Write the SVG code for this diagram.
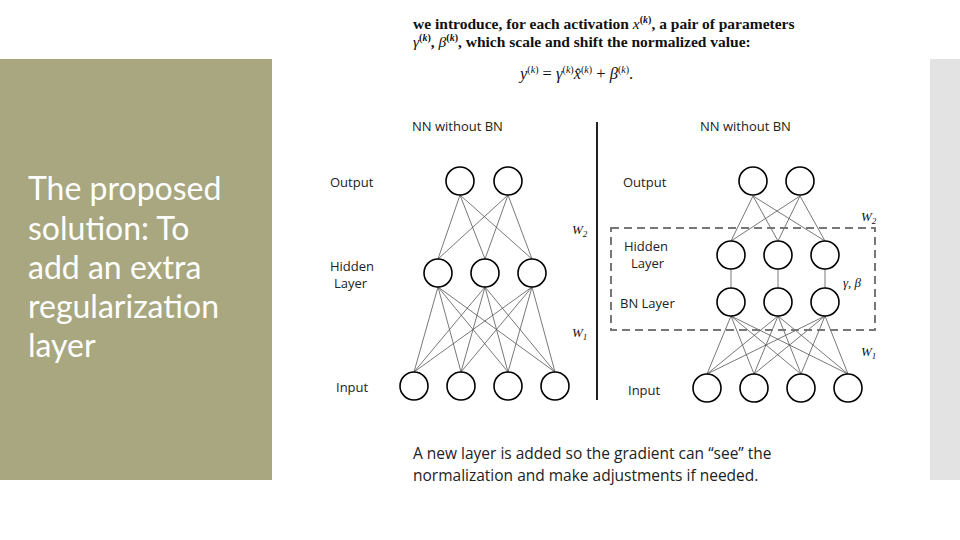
<svg xmlns="http://www.w3.org/2000/svg" width="960" height="540" viewBox="0 0 960 540">
<style>
.n{fill:#fff;stroke:#000;stroke-width:1.6}
.e{stroke:#555;stroke-width:0.8}
.l{font-family:"Open Sans","Noto Sans",sans-serif;font-size:13px;fill:#222}
.m{font-family:"Liberation Serif",serif;font-size:15.5px;fill:#111;font-weight:bold}
.mi{font-family:"Liberation Serif",serif;font-style:italic;font-size:13px;fill:#111}
</style>
<rect width="960" height="540" fill="#fff"/>
<rect x="0" y="59" width="272" height="421" fill="#a8a77f"/>
<rect x="930" y="59" width="30" height="421" fill="#e3e3e3"/>
<g id="title"><text font-family="Lato,'Open Sans',sans-serif" font-size="32" fill="#fff"><tspan x="28" y="200">The proposed</tspan><tspan x="28" y="240">solution: To</tspan><tspan x="28" y="279">add an extra</tspan><tspan x="28" y="318">regularization</tspan><tspan x="28" y="357">layer</tspan></text></g>
<g id="paper" class="m">
<text x="413" y="29">we introduce, for each activation <tspan font-style="italic" font-weight="normal">x</tspan><tspan font-size="10" dy="-6">(<tspan font-style="italic">k</tspan>)</tspan><tspan dy="6">, a pair of parameters</tspan></text>
<text x="413" y="47"><tspan font-style="italic" font-weight="normal">γ</tspan><tspan font-size="10" dy="-6">(<tspan font-style="italic">k</tspan>)</tspan><tspan dy="6">, </tspan><tspan font-style="italic" font-weight="normal">β</tspan><tspan font-size="10" dy="-6">(<tspan font-style="italic">k</tspan>)</tspan><tspan dy="6">, which scale and shift the normalized value:</tspan></text>
<text x="520" y="79" font-weight="normal" font-size="16.5"><tspan font-style="italic">y</tspan><tspan font-size="10" dy="-6">(<tspan font-style="italic">k</tspan>)</tspan><tspan dy="6"> = </tspan><tspan font-style="italic">γ</tspan><tspan font-size="10" dy="-6">(<tspan font-style="italic">k</tspan>)</tspan><tspan dy="6" font-style="italic">x̂</tspan><tspan font-size="10" dy="-6">(<tspan font-style="italic">k</tspan>)</tspan><tspan dy="6"> + </tspan><tspan font-style="italic">β</tspan><tspan font-size="10" dy="-6">(<tspan font-style="italic">k</tspan>)</tspan><tspan dy="6">.</tspan></text>
</g>
<g id="connectors">
<line x1="597" y1="122" x2="597" y2="400" stroke="#222" stroke-width="2"/>
<g class="e">
<line x1="460" y1="195" x2="438" y2="259"/><line x1="460" y1="195" x2="485" y2="259"/><line x1="460" y1="195" x2="532" y2="259"/>
<line x1="508" y1="195" x2="438" y2="259"/><line x1="508" y1="195" x2="485" y2="259"/><line x1="508" y1="195" x2="532" y2="259"/>
<line x1="438" y1="287" x2="414" y2="372"/><line x1="438" y1="287" x2="461" y2="372"/><line x1="438" y1="287" x2="508" y2="372"/><line x1="438" y1="287" x2="555" y2="372"/>
<line x1="485" y1="287" x2="414" y2="372"/><line x1="485" y1="287" x2="461" y2="372"/><line x1="485" y1="287" x2="508" y2="372"/><line x1="485" y1="287" x2="555" y2="372"/>
<line x1="532" y1="287" x2="414" y2="372"/><line x1="532" y1="287" x2="461" y2="372"/><line x1="532" y1="287" x2="508" y2="372"/><line x1="532" y1="287" x2="555" y2="372"/>
<line x1="753" y1="196" x2="731" y2="241"/><line x1="753" y1="196" x2="778" y2="241"/><line x1="753" y1="196" x2="825" y2="241"/>
<line x1="800" y1="196" x2="731" y2="241"/><line x1="800" y1="196" x2="778" y2="241"/><line x1="800" y1="196" x2="825" y2="241"/>
<line x1="731" y1="269" x2="731" y2="288"/><line x1="778" y1="269" x2="778" y2="288"/><line x1="825" y1="269" x2="825" y2="288"/>
<line x1="731" y1="316" x2="707" y2="374"/><line x1="731" y1="316" x2="754" y2="374"/><line x1="731" y1="316" x2="801" y2="374"/><line x1="731" y1="316" x2="848" y2="374"/>
<line x1="778" y1="316" x2="707" y2="374"/><line x1="778" y1="316" x2="754" y2="374"/><line x1="778" y1="316" x2="801" y2="374"/><line x1="778" y1="316" x2="848" y2="374"/>
<line x1="825" y1="316" x2="707" y2="374"/><line x1="825" y1="316" x2="754" y2="374"/><line x1="825" y1="316" x2="801" y2="374"/><line x1="825" y1="316" x2="848" y2="374"/>
</g>
<rect x="611" y="228" width="264" height="102" fill="none" stroke="#777" stroke-width="2" stroke-dasharray="8,5"/>
</g>
<g id="left-net">
<circle class="n" cx="460" cy="181" r="14"/><circle class="n" cx="508" cy="181" r="14"/>
<circle class="n" cx="438" cy="273" r="14"/><circle class="n" cx="485" cy="273" r="14"/><circle class="n" cx="532" cy="273" r="14"/>
<circle class="n" cx="414" cy="386" r="14"/><circle class="n" cx="461" cy="386" r="14"/><circle class="n" cx="508" cy="386" r="14"/><circle class="n" cx="555" cy="386" r="14"/>
<text class="l" x="412" y="131">NN without BN</text>
<text class="l" x="330" y="187">Output</text>
<text class="l" x="330" y="271">Hidden</text><text class="l" x="334" y="288">Layer</text>
<text class="l" x="336" y="392">Input</text>
<text class="mi" x="572" y="234">W<tspan font-size="9" dy="3">2</tspan></text>
<text class="mi" x="572" y="337">W<tspan font-size="9" dy="3">1</tspan></text>
</g>
<g id="right-net">
<circle class="n" cx="753" cy="181" r="14"/><circle class="n" cx="800" cy="181" r="14"/>
<circle class="n" cx="731" cy="255" r="14"/><circle class="n" cx="778" cy="255" r="14"/><circle class="n" cx="825" cy="255" r="14"/>
<circle class="n" cx="731" cy="302" r="14"/><circle class="n" cx="778" cy="302" r="14"/><circle class="n" cx="825" cy="302" r="14"/>
<circle class="n" cx="707" cy="388" r="14"/><circle class="n" cx="754" cy="388" r="14"/><circle class="n" cx="801" cy="388" r="14"/><circle class="n" cx="848" cy="388" r="14"/>
<text class="l" x="700" y="131">NN without BN</text>
<text class="l" x="623" y="187">Output</text>
<text class="l" x="624" y="251">Hidden</text><text class="l" x="631" y="268">Layer</text>
<text class="l" x="620" y="308">BN Layer</text>
<text class="l" x="628" y="395">Input</text>
<text class="mi" x="861" y="221">W<tspan font-size="9" dy="3">2</tspan></text>
<text class="mi" x="843" y="287">γ, β</text>
<text class="mi" x="861" y="356">W<tspan font-size="9" dy="3">1</tspan></text>
</g>
<g id="caption"><text font-family="'Open Sans',sans-serif" font-size="15.5" fill="#222"><tspan x="413" y="459">A new layer is added so the gradient can “see” the</tspan><tspan x="413" y="481">normalization and make adjustments if needed.</tspan></text></g>
</svg>
